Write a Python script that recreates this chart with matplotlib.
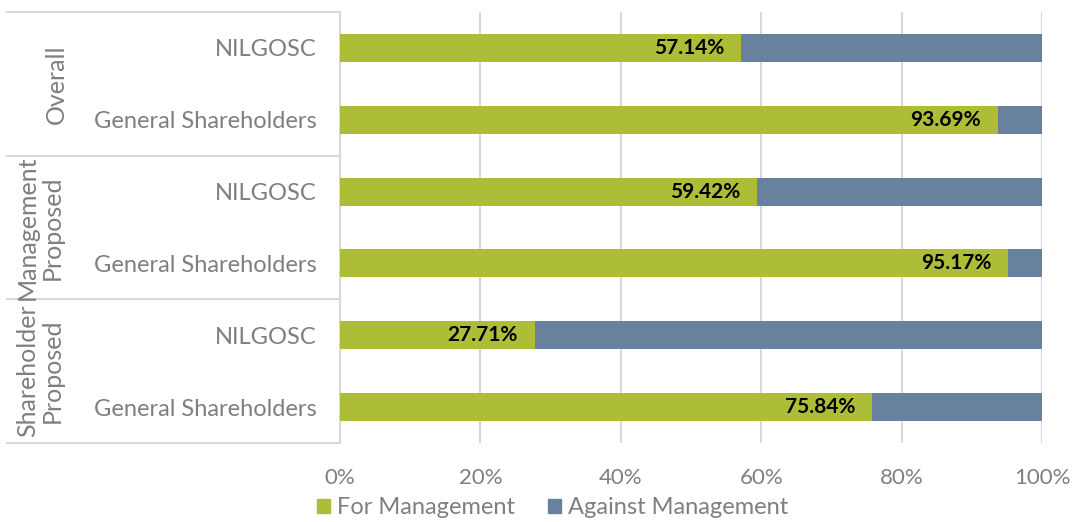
import matplotlib.pyplot as plt
import matplotlib.transforms as mtransforms
from matplotlib.patches import Patch

plt.rcParams['font.family'] = ['Lato', 'DejaVu Sans']

# data
groups = ['Overall', 'Management\nProposed', 'Shareholder\nProposed']
holders = ['NILGOSC', 'General Shareholders']
for_mgmt = [57.14, 93.69, 59.42, 95.17, 27.71, 75.84]
against_mgmt = [100 - v for v in for_mgmt]
xticks = [0, 20, 40, 60, 80, 100]

green = '#AEBD38'
blue = '#68829E'
grey_txt = '#7F7F7F'
grid_c = '#D9D9D9'

fig = plt.figure(figsize=(10.75, 5.22), dpi=100)
ax = fig.add_axes([340 / 1075, 79 / 522, 702 / 1075, 431 / 522])

ypos = list(range(len(for_mgmt)))
labels = holders * len(groups)

ax.barh(ypos, for_mgmt, height=0.39, color=green, zorder=3)
ax.barh(ypos, against_mgmt, left=for_mgmt, height=0.39, color=blue, zorder=3)

for y, v in zip(ypos, for_mgmt):
    ax.annotate(f'{v:.2f}%', xy=(v, y), xytext=(-12, 0), textcoords='offset points',
                ha='right', va='center', fontsize=15, fontweight='bold', color='black', zorder=4)

ax.set_xlim(0, 100)
ax.set_ylim(len(for_mgmt) - 0.5, -0.5)
ax.set_xticks(xticks)
ax.set_xticklabels([f'{t}%' for t in xticks])
ax.set_yticks(ypos)
ax.set_yticklabels(labels)
ax.tick_params(axis='y', length=0, pad=17, labelsize=17, labelcolor=grey_txt)
ax.tick_params(axis='x', length=0, pad=18, labelsize=16, labelcolor=grey_txt)
ax.grid(axis='x', color=grid_c, linewidth=1.5, zorder=0)
for s in ['top', 'right', 'bottom']:
    ax.spines[s].set_visible(False)
ax.spines['left'].set_color(grid_c)
ax.spines['left'].set_linewidth(1.5)

# category separators on the left
trans = mtransforms.blended_transform_factory(ax.transAxes, ax.transData)
x_box = -333 / 702
n = len(holders)
for i in range(len(groups) + 1):
    yb = i * n - 0.5
    ax.plot([x_box, 0], [yb, yb], transform=trans, color=grid_c, lw=1.5, clip_on=False)
for i, g in enumerate(groups):
    yc = i * n + (n - 1) / 2
    ax.text(-0.428 if '\n' in g else -0.404, yc, g, transform=trans, rotation=90,
            ha='center', va='center', fontsize=18, color=grey_txt, linespacing=1.08)

handles = [Patch(color=green, label='For Management'),
           Patch(color=blue, label='Against Management')]
fig.legend(handles=handles, loc='center left', bbox_to_anchor=(296 / 1075, 1 - 508 / 522),
           ncol=2, frameon=False, fontsize=17, labelcolor=grey_txt,
           handlelength=0.55, handleheight=0.55, handletextpad=0.3, columnspacing=1.4)

plt.savefig('out.png', dpi=100)
